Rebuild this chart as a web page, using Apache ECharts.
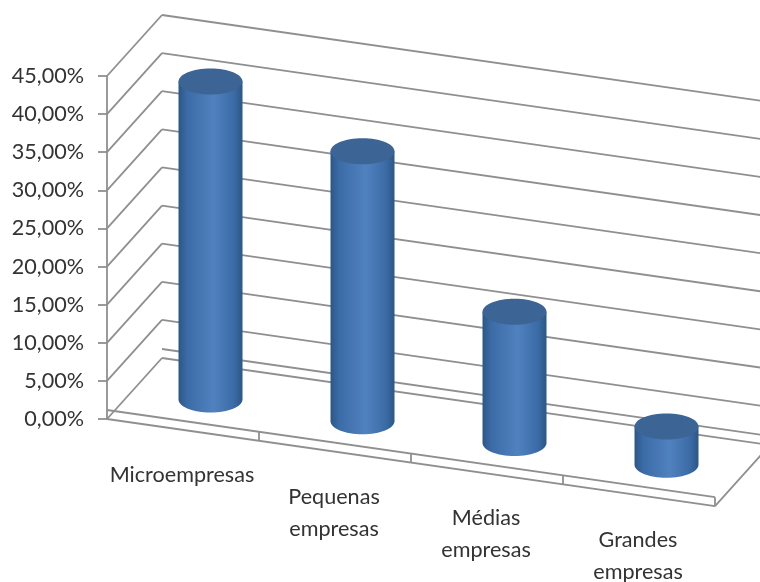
<!DOCTYPE html>
<html>
<head>
<meta charset="utf-8">
<style>html,body{margin:0;padding:0;background:#fff}#chart{width:760px;height:582px}</style>
<script src="https://cdn.jsdelivr.net/npm/echarts@6/dist/echarts.min.js"></script>
</head>
<body>
<div id="chart"></div>
<script>
const categories = ['Microempresas', 'Pequenas\nempresas', 'Médias\nempresas', 'Grandes\nempresas'];
const shares = [41.7, 35.4, 17.2, 5.0];
const wallTicks = [0, 5, 10, 15, 20, 25, 30, 35, 40, 45];

// Oblique projection: the category axis falls to the right, depth goes up and right.
const SLOPE = 0.1433;
const DEPTH_X = 55;
const DEPTH_Y = -61;
const SLAB = 9;
const RX = 32;
const RY = 13;
const LINE = { stroke: '#8f8f8f', lineWidth: 1.8, fill: null };
const FONT = '21.6px Lato, "Open Sans", sans-serif';
const TEXT = '#333333';

function fall(x, rect) { return (x - rect.x) * SLOPE; }

function segment(x1, y1, x2, y2) {
  return { type: 'line', shape: { x1, y1, x2, y2 }, style: LINE, silent: true };
}

// Left wall diagonal and back wall line for one value tick, plus the floor slab at zero.
function renderWall(params, api) {
  const rect = params.coordSys;
  const y = api.coord([0, api.value(1)])[1];
  const right = rect.x + rect.width;
  const drop = rect.width * SLOPE;
  const backX = rect.x + DEPTH_X;
  const children = [
    segment(rect.x, y, backX, y + DEPTH_Y),
    segment(backX, y + DEPTH_Y, right + DEPTH_X, y + DEPTH_Y + drop)
  ];
  if (api.value(1) === 0) {
    children.push(
      segment(backX, y + DEPTH_Y - SLAB, right + DEPTH_X, y + DEPTH_Y - SLAB + drop),
      segment(rect.x, y, right, y + drop),
      segment(rect.x, y - SLAB, right, y - SLAB + drop),
      segment(right, y + drop, right + DEPTH_X, y + drop + DEPTH_Y)
    );
    for (let i = 1; i <= categories.length; i++) {
      const x = rect.x + rect.width * i / categories.length;
      children.push(segment(x, y + fall(x, rect), x, y + fall(x, rect) - SLAB));
    }
  }
  return { type: 'group', children };
}

// Cylinder standing mid-depth on the floor, its height taken from the value scale.
function renderCylinder(params, api) {
  const rect = params.coordSys;
  const base = api.coord([api.value(0), 0]);
  const top = api.coord([api.value(0), api.value(1)]);
  const cx = base[0] + DEPTH_X / 2;
  const shift = fall(base[0], rect) + DEPTH_Y / 2;
  const by = base[1] + shift;
  const ty = top[1] + shift;
  const k = 0.5523;
  const side = new echarts.graphic.LinearGradient(0, 0, 1, 0, [
    { offset: 0, color: '#2c5688' },
    { offset: 0.14, color: '#3c6ca6' },
    { offset: 0.55, color: '#5082c0' },
    { offset: 0.86, color: '#3c6ca6' },
    { offset: 1, color: '#2c5688' }
  ]);
  return {
    type: 'group',
    children: [
      {
        type: 'path',
        shape: {
          pathData: 'M' + (cx - RX) + ' ' + ty + 'L' + (cx - RX) + ' ' + by +
            'C' + (cx - RX) + ' ' + (by + RY * k) + ' ' + (cx - RX * k) + ' ' + (by + RY) + ' ' + cx + ' ' + (by + RY) +
            'C' + (cx + RX * k) + ' ' + (by + RY) + ' ' + (cx + RX) + ' ' + (by + RY * k) + ' ' + (cx + RX) + ' ' + by +
            'L' + (cx + RX) + ' ' + ty + 'Z',
          layout: 'cover',
          x: cx - RX, y: ty, width: RX * 2, height: by + RY - ty
        },
        style: { fill: side }
      },
      {
        type: 'ellipse',
        shape: { cx, cy: ty, rx: RX, ry: RY },
        style: { fill: '#3c6494' }
      }
    ]
  };
}

function renderCategoryLabel(params, api) {
  const rect = params.coordSys;
  const p = api.coord([api.value(0), 0]);
  return {
    type: 'text',
    silent: true,
    style: {
      x: p[0] - 1,
      y: p[1] + fall(p[0], rect) + 29,
      text: categories[api.value(0)],
      font: FONT,
      fill: TEXT,
      align: 'center',
      verticalAlign: 'top',
      lineHeight: 32
    }
  };
}

const chart = echarts.init(document.getElementById('chart'), null, { renderer: 'canvas' });
chart.setOption({
  animation: false,
  backgroundColor: '#fff',
  grid: { left: 107, top: 76, width: 608, height: 343, containLabel: false },
  xAxis: { type: 'category', data: categories, show: false },
  yAxis: {
    type: 'value',
    min: 0,
    max: 45,
    interval: 5,
    splitLine: { show: false },
    axisLine: { show: true, lineStyle: { color: '#8f8f8f', width: 1.8 } },
    axisTick: { show: true, length: 9, lineStyle: { color: '#8f8f8f', width: 1.8 } },
    axisLabel: {
      margin: 23,
      color: TEXT,
      fontFamily: 'Lato, "Open Sans", sans-serif',
      fontSize: 21.6,
      formatter: v => v.toFixed(2).replace('.', ',') + '%'
    }
  },
  series: [
    {
      type: 'custom', name: 'wall', z: 1, clip: false, silent: true,
      renderItem: renderWall,
      data: wallTicks.map(v => [0, v])
    },
    {
      type: 'custom', name: 'Empresas', z: 3, clip: false,
      renderItem: renderCylinder,
      encode: { x: 0, y: 1 },
      data: shares.map((v, i) => [i, v])
    },
    {
      type: 'custom', name: 'labels', z: 4, clip: false, silent: true,
      renderItem: renderCategoryLabel,
      data: categories.map((c, i) => [i, 0])
    }
  ]
});
</script>
</body>
</html>
